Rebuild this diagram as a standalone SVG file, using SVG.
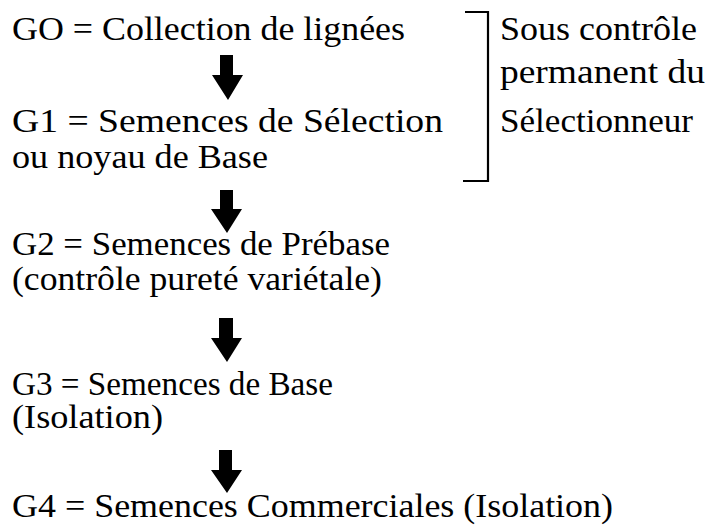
<svg xmlns="http://www.w3.org/2000/svg" width="713" height="530" viewBox="0 0 713 530">
<style>
text{font-family:"Liberation Serif","DejaVu Serif",serif;font-size:33px;fill:#000}
.arr{fill:#000}
.br{fill:none;stroke:#000;stroke-width:2.2}
</style>
<rect width="713" height="530" fill="#fff"/>
<g id="g0"><text x="12" y="40" textLength="393" lengthAdjust="spacingAndGlyphs">GO = Collection de lignées</text></g>
<g id="g1"><text x="12" y="132" textLength="431" lengthAdjust="spacingAndGlyphs">G1 = Semences de Sélection</text>
<text x="12" y="168" textLength="256" lengthAdjust="spacingAndGlyphs">ou noyau de Base</text></g>
<g id="g2"><text x="12" y="255" textLength="378" lengthAdjust="spacingAndGlyphs">G2 = Semences de Prébase</text>
<text x="12" y="290" textLength="370" lengthAdjust="spacingAndGlyphs">(contrôle pureté variétale)</text></g>
<g id="g3"><text x="12" y="395" textLength="321" lengthAdjust="spacingAndGlyphs">G3 = Semences de Base</text>
<text x="12" y="428" textLength="151" lengthAdjust="spacingAndGlyphs">(Isolation)</text></g>
<g id="g4"><text x="12" y="517" textLength="601" lengthAdjust="spacingAndGlyphs">G4 = Semences Commerciales (Isolation)</text></g>
<g id="note"><path class="br" d="M465,12 H488 V181 H463"/>
<text x="500" y="40" textLength="197" lengthAdjust="spacingAndGlyphs">Sous contrôle</text>
<text x="500" y="83" textLength="205" lengthAdjust="spacingAndGlyphs">permanent du</text>
<text x="500" y="132" textLength="193" lengthAdjust="spacingAndGlyphs">Sélectionneur</text></g>
<g id="connectors">
<path class="arr" d="M220,55 H233 V75 H243 L228,100 L212,75 H220 Z"/>
<path class="arr" d="M220,190 H233 V209 H242 L227,233 L211,209 H220 Z"/>
<path class="arr" d="M219,318 H233 V338 H242 L227,362 L211,338 H219 Z"/>
<path class="arr" d="M219,450 H232 V470 H242 L227,493 L211,470 H219 Z"/>
</g>
</svg>
